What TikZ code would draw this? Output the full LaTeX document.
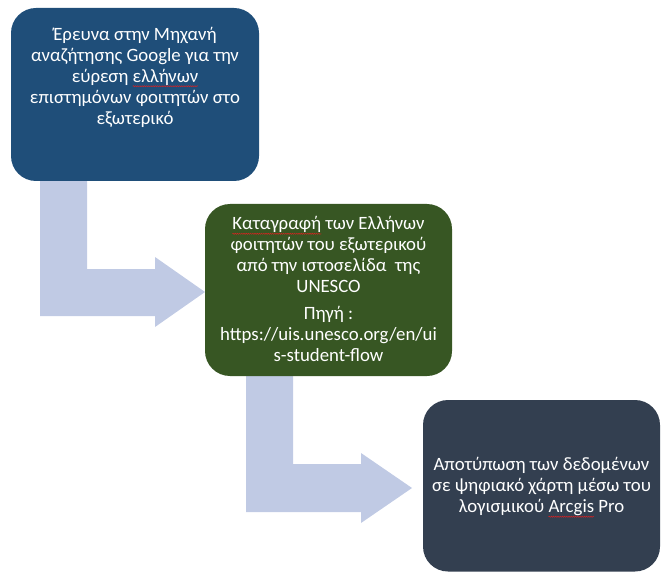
\documentclass[tikz,border=0pt]{standalone}
\usepackage{fontspec}
\setmainfont{Carlito}
\usetikzlibrary{decorations.pathmorphing}
\definecolor{boxblue}{HTML}{1F4E79}
\definecolor{boxgreen}{HTML}{375623}
\definecolor{boxslate}{HTML}{333F50}
\definecolor{arrowfill}{HTML}{C0CAE4}
\definecolor{wavered}{HTML}{E02020}
\newsavebox\wavebox
\newlength\wavelen
\newcommand\redwave[1]{\sbox\wavebox{#1}\setlength\wavelen{\wd\wavebox}%
  \rlap{\tikz[x=1pt,y=1pt,baseline=0pt]{\useasboundingbox (0pt,0pt);
    \draw[wavered, line width=0.45pt, decorate,
      decoration={snake,amplitude=0.6pt,segment length=2.2pt}]
      (0pt,-4pt) -- (\wavelen,-4pt);}}\usebox\wavebox}
\begin{document}
\begin{tikzpicture}[x=1pt,y=-1pt,
  box/.style={draw=none, rounded corners=25pt, inner sep=0pt},
  txt/.style={text=white, align=center, inner sep=0pt, font=\fontsize{18.8}{21}\selectfont},
  bentarrow/.style={fill=arrowfill, draw=none}]
\useasboundingbox (0,0) rectangle (661,572);
% arrows (behind boxes)
\coordinate (a1tip) at (205,292);
\coordinate (a2tip) at (412,488);
\fill[bentarrow] (40,178) -- (87,178) -- (87,269) -- (155,269) -- (155,257) -- (a1tip)
  -- (155,327) -- (155,316) -- (40,316) -- cycle;
\fill[bentarrow] (246,373) -- (293,373) -- (293,464) -- (361,464) -- (361,453) -- (a2tip)
  -- (361,523) -- (361,512) -- (246,512) -- cycle;
% boxes
\fill[box, fill=boxblue]  (11,8) rectangle (259,181);
\node[box, minimum width=248pt, minimum height=173pt] (b1) at (135,94.5) {};
\fill[box, fill=boxgreen] (205,204) rectangle (452,376);
\node[box, minimum width=247pt, minimum height=172pt] (b2) at (328.5,290) {};
\fill[box, fill=boxslate] (423,400) rectangle (660,571.5);
\node[box, minimum width=237pt, minimum height=171.5pt] (b3) at (541.5,485.75) {};
% texts
\node[txt, anchor=north] (t1) at ([yshift=-19pt]b1.north)
  {Έρευνα στην Μηχανή\\ αναζήτησης Google για την\\ εύρεση \redwave{ελλήνων}\\ επιστημόνων φοιτητών στο\\ εξωτερικό};
\node[txt] (t2) at ([yshift=1pt]b2.center)
  {\redwave{Καταγραφή} των Ελλήνων\\ φοιτητών του εξωτερικού\\ από την ιστοσελίδα~ της\\ UNESCO\\[5.5pt] Πηγή :\\ https://uis.unesco.org/en/ui\\ s-student-flow};
\node[txt] (t3) at ([yshift=-1pt]b3.center)
  {Αποτύπωση των δεδομένων\\ σε ψηφιακό χάρτη μέσω του\\ λογισμικού \redwave{Arcgis} Pro};
\end{tikzpicture}
\end{document}
